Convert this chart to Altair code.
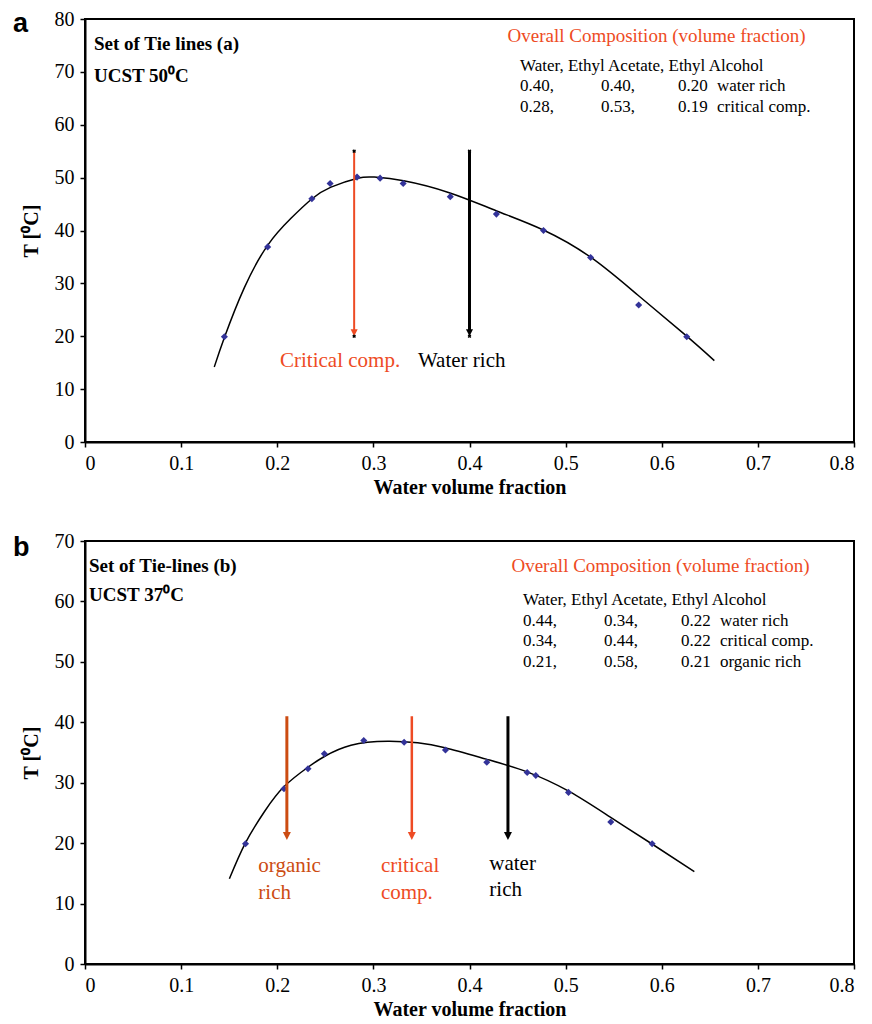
import altair as alt
import pandas as pd

# ---------------- Panel a (UCST 50 C) ----------------
a_pts_x = [0.145, 0.190, 0.236, 0.255, 0.283, 0.307, 0.331, 0.380, 0.428, 0.477, 0.526, 0.576, 0.626]
a_pts_y = [19.9, 36.9, 46.0, 48.9, 50.1, 49.9, 48.9, 46.4, 43.1, 40.0, 34.9, 25.9, 19.9]

a_fit_x = [0.1345, 0.1453, 0.1658, 0.1900, 0.2143, 0.2362, 0.2559, 0.2837, 0.3010,
           0.3315, 0.3797, 0.4283, 0.4768, 0.5264, 0.5750, 0.6235, 0.6547]
a_fit_y = [14.2, 19.9, 29.2, 37.2, 42.3, 46.0, 48.2, 49.9, 50.1,
           49.4, 47.1, 43.7, 40.1, 34.9, 27.8, 20.4, 15.4]

a_arrow_kind = ["critical", "water"]
a_arrow_x = [0.28, 0.40]
a_arrow_top = [55, 55]
a_arrow_tip = [20, 20]

a_title_lines = ["Set of Tie lines (a)", "UCST 50\u2070C"]
a_title_y = [75.3, 69.2]
a_comp_title = "Overall Composition (volume fraction)"
a_comp_header = "Water, Ethyl Acetate, Ethyl Alcohol"
a_comp_rows = [["0.40,", "0.40,", "0.20", "water rich"],
               ["0.28,", "0.53,", "0.19", "critical comp."]]
a_comp_col_x = [0.4525, 0.5368, 0.6169, 0.6575]
a_comp_row_y = [67.3, 63.4]
a_labels = [("Critical comp.", "critical", 0.2029, 15.3), ("Water rich", "water", 0.3464, 15.3)]

# ---------------- Panel b (UCST 37 C) ----------------
b_pts_x = [0.167, 0.207, 0.232, 0.249, 0.290, 0.332, 0.375, 0.418, 0.460, 0.469, 0.503, 0.547, 0.590]
b_pts_y = [19.9, 29.0, 32.3, 34.8, 37.0, 36.7, 35.4, 33.4, 31.7, 31.2, 28.4, 23.5, 19.9]

b_fit_x = [0.1502, 0.1668, 0.1866, 0.2074, 0.2323, 0.2486, 0.2767, 0.3149, 0.3461,
           0.3745, 0.4175, 0.4598, 0.5032, 0.5465, 0.5895, 0.6339]
b_fit_y = [14.1, 20.0, 25.2, 29.4, 32.6, 34.3, 36.2, 36.85, 36.6,
           35.8, 33.9, 31.8, 28.6, 24.3, 19.9, 15.3]

b_arrow_kind = ["organic", "critical", "water"]
b_arrow_x = [0.21, 0.34, 0.44]
b_arrow_top = [41, 41, 41]
b_arrow_tip = [20.5, 20.5, 20.5]

b_title_lines = ["Set of Tie-lines (b)", "UCST 37\u2070C"]
b_title_y = [65.9, 61.0]
b_comp_title = "Overall Composition (volume fraction)"
b_comp_header = "Water, Ethyl Acetate, Ethyl Alcohol"
b_comp_rows = [["0.44,", "0.34,", "0.22", "water rich"],
               ["0.34,", "0.44,", "0.22", "critical comp."],
               ["0.21,", "0.58,", "0.21", "organic rich"]]
b_comp_col_x = [0.4557, 0.5399, 0.6200, 0.6606]
b_comp_row_y = [56.8, 53.45, 50.0]
b_labels = [("organic", "organic", 0.1803, 16.2), ("rich", "organic", 0.1803, 11.8),
            ("critical", "critical", 0.3079, 16.2), ("comp.", "critical", 0.3079, 11.8),
            ("water", "water", 0.4206, 16.6), ("rich", "water", 0.4206, 12.2)]

x_ticks = [0, 0.1, 0.2, 0.3, 0.4, 0.5, 0.6, 0.7, 0.8]

# ---------------- styles ----------------
SERIF = "Liberation Serif, Times New Roman, serif"
KIND_DOMAIN = ["organic", "critical", "water"]
KIND_COLORS = ["#CC4C12", "#EE4B24", "#000000"]
RED = "#EE4B24"


def panel(letter, letter_y, title_x, pts_x, pts_y, fit_x, fit_y, arr_kind, arr_x, arr_top, arr_tip,
          arr_widths, head_size, title_lines, title_y, comp_title, comp_title_pos,
          comp_header, comp_rows, col_x, row_y, header_y, labels, ymax, show_cross):
    X = alt.X("x:Q", scale=alt.Scale(domain=[0, 0.8], nice=False),
              axis=alt.Axis(values=x_ticks, format="~g", title="Water volume fraction"))
    Y = alt.Y("y:Q", scale=alt.Scale(domain=[0, ymax], nice=False),
              axis=alt.Axis(values=list(range(0, ymax + 1, 10)), title="T [\u2070C]"))
    color = alt.Color("kind:N", scale=alt.Scale(domain=KIND_DOMAIN, range=KIND_COLORS), legend=None)

    fit = alt.Chart(pd.DataFrame({"x": fit_x, "y": fit_y})).mark_line(
        color="black", strokeWidth=1.5, interpolate="natural").encode(x=X, y=Y)
    pts = alt.Chart(pd.DataFrame({"x": pts_x, "y": pts_y})).mark_point(
        shape="diamond", filled=True, color="#333399", size=50, opacity=1).encode(x=X, y=Y)

    arr_df = pd.DataFrame({"kind": arr_kind, "x": arr_x, "y": arr_top, "y2": arr_tip})
    layers = [fit, pts]
    for k, w in arr_widths.items():
        sub = arr_df[arr_df["kind"] == k]
        if len(sub) == 0:
            continue
        layers.append(alt.Chart(sub).mark_rule(strokeWidth=w, y2Offset=-5).encode(
            x=X, y=Y, y2="y2:Q", color=color))
    head_df = pd.DataFrame({"kind": arr_kind, "x": arr_x, "y": arr_tip})
    layers.append(alt.Chart(head_df).mark_point(
        shape="M-0.5,-1L0.5,-1L0,0Z", filled=True, opacity=1, size=head_size).encode(
        x=X, y=Y, color=color))
    if show_cross:
        cross_df = pd.DataFrame({"x": arr_x + arr_x, "y": arr_top + arr_tip})
        layers.append(alt.Chart(cross_df).mark_point(
            shape="cross", angle=45, filled=True, color="black", size=14, opacity=1).encode(x=X, y=Y))

    # texts
    tdf = pd.DataFrame({"x": [title_x] * len(title_lines), "y": title_y, "t": title_lines})
    layers.append(alt.Chart(tdf).mark_text(
        align="left", baseline="middle", font=SERIF, fontSize=19, fontWeight="bold", color="black").encode(
        x=X, y=Y, text="t:N"))
    layers.append(alt.Chart(pd.DataFrame({"x": [comp_title_pos[0]], "y": [comp_title_pos[1]], "t": [comp_title]})).mark_text(
        align="center", baseline="middle", font=SERIF, fontSize=19, color=RED).encode(x=X, y=Y, text="t:N"))
    rows = [{"x": col_x[0], "y": header_y, "t": comp_header}]
    for r, yy in zip(comp_rows, row_y):
        for c, xx in zip(r, col_x):
            rows.append({"x": xx, "y": yy, "t": c})
    layers.append(alt.Chart(pd.DataFrame(rows)).mark_text(
        align="left", baseline="middle", font=SERIF, fontSize=17, color="black").encode(x=X, y=Y, text="t:N"))
    ldf = pd.DataFrame([{"t": t, "kind": k, "x": x, "y": y} for t, k, x, y in labels])
    layers.append(alt.Chart(ldf).mark_text(
        align="left", baseline="middle", font=SERIF, fontSize=21).encode(x=X, y=Y, text="t:N", color=color))
    layers.append(alt.Chart(pd.DataFrame({"x": [-0.0749], "y": [letter_y], "t": [letter]})).mark_text(
        align="left", baseline="middle", font="Liberation Sans", fontSize=27, fontWeight="bold",
        color="black").encode(x=X, y=Y, text="t:N"))

    return alt.layer(*layers).properties(width=769, height=423)


top = panel("a", 79.0, 0.0094, a_pts_x, a_pts_y, a_fit_x, a_fit_y, a_arrow_kind, a_arrow_x, a_arrow_top, a_arrow_tip,
            {"critical": 2, "water": 3}, 200, a_title_lines, a_title_y, a_comp_title, (0.5946, 76.8),
            a_comp_header, a_comp_rows, a_comp_col_x, a_comp_row_y, 71.1, a_labels, 80, True)
bottom = panel("b", 68.8, 0.0042, b_pts_x, b_pts_y, b_fit_x, b_fit_y, b_arrow_kind, b_arrow_x, b_arrow_top, b_arrow_tip,
               {"organic": 3, "critical": 2.5, "water": 3}, 256, b_title_lines, b_title_y, b_comp_title, (0.5987, 65.9),
               b_comp_header, b_comp_rows, b_comp_col_x, b_comp_row_y, 60.2, b_labels, 70, False)

chart = alt.vconcat(top, bottom, spacing=32).properties(
    padding={"left": 4, "top": 0, "right": 0, "bottom": 0}
).configure_view(stroke="black", strokeWidth=2).configure_axis(
    labelFont=SERIF, labelFontSize=20, labelColor="black",
    titleFont=SERIF, titleFontSize=20, titleFontWeight="bold", titleColor="black",
    domainColor="black", domainWidth=2, tickColor="black", tickSize=5, tickWidth=1.5,
    grid=False, labelPadding=6
).configure_axisX(titlePadding=4).configure_axisY(titlePadding=13)

chart.save("out.html", embed_options={"renderer": "svg", "actions": False})
